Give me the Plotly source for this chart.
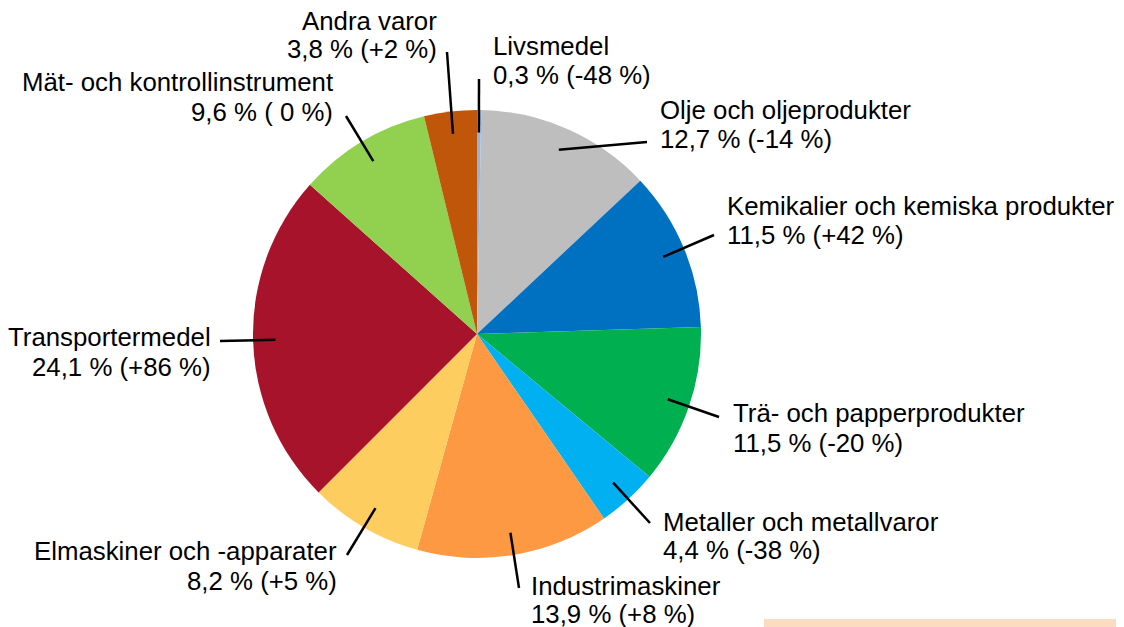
import math
import plotly.graph_objects as go

# ---- data ----
categories = ["Livsmedel", "Olje och oljeprodukter", "Kemikalier och kemiska produkter",
              "Trä- och papperprodukter", "Metaller och metallvaror", "Industrimaskiner",
              "Elmaskiner och -apparater", "Transportermedel", "Mät- och kontrollinstrument",
              "Andra varor"]
shares = [0.3, 12.7, 11.5, 11.5, 4.4, 13.9, 8.2, 24.1, 9.6, 3.8]
share_labels = ["0,3 %", "12,7 %", "11,5 %", "11,5 %", "4,4 %", "13,9 %", "8,2 %", "24,1 %", "9,6 %", "3,8 %"]
change_labels = ["(-48 %)", "(-14 %)", "(+42 %)", "(-20 %)", "(-38 %)", "(+8 %)", "(+5 %)", "(+86 %)", "( 0 %)", "(+2 %)"]

colors = ["#8EB4E3", "#BDBEBD", "#0070C0", "#00B050", "#00B0F0", "#FD9843",
          "#FECD5F", "#A6132A", "#92D050", "#C0560A"]

# ---- layout (pixel positions in the page) ----
W, H = 1124, 627
OFF = 8  # default page body margin
CX, CY, R = 477, 334, 224
# label anchor: (x, y line1, y line2, xanchor), line outer end (x, y)
label_pos = [
    (491, 46, 75, "left", (479, 79)),
    (658, 110, 139, "left", (647, 142)),
    (725, 206, 235, "left", (714, 235)),
    (731, 413, 443, "left", (719, 417)),
    (661, 522, 550, "left", (650, 523)),
    (529, 586, 614, "left", (519, 588)),
    (339, 551, 581, "right", (347, 555)),
    (213, 337, 367, "right", (220, 341)),
    (335, 82, 112, "right", (346, 116)),
    (439, 21, 49, "right", (447, 52)),
]

def px(x):
    return (x - OFF) / W

def py(y):
    return 1 - (y - OFF) / H

fig = go.Figure(go.Pie(
    labels=categories, values=shares, sort=False, direction="clockwise",
    rotation=0, textinfo="none", hoverinfo="label+percent",
    marker=dict(colors=colors, line=dict(width=0)),
    domain=dict(x=[px(CX - R), px(CX + R)], y=[py(CY + R), py(CY - R)]),
    showlegend=False,
))

font = dict(family="Liberation Sans, Arial, sans-serif", size=25.8, color="#000000")
annotations = []
shapes = []
total = sum(shares)
cum = 0.0
for i, v in enumerate(shares):
    mid = (cum + v / 2) / total * 2 * math.pi
    cum += v
    tx = CX + 0.9 * R * math.sin(mid)
    ty = CY - 0.9 * R * math.cos(mid)
    lx, l1, l2, anchor, (ox, oy) = label_pos[i]
    shapes.append(dict(type="line", xref="paper", yref="paper",
                       x0=px(tx), y0=py(ty), x1=px(ox), y1=py(oy),
                       line=dict(color="#000000", width=2.5)))
    annotations.append(dict(text=categories[i], x=px(lx), y=py(l1), xref="paper", yref="paper",
                            xanchor=anchor, yanchor="middle", showarrow=False, font=font))
    annotations.append(dict(text=f"{share_labels[i]} {change_labels[i]}", x=px(lx), y=py(l2),
                            xref="paper", yref="paper", xanchor=anchor, yanchor="middle",
                            showarrow=False, font=font))

shapes.append(dict(type="rect", xref="paper", yref="paper", x0=px(764), x1=1, y0=0, y1=py(619),
                   fillcolor="#FCDCC0", line=dict(width=0), layer="below"))

fig.update_layout(
    width=W, height=H, margin=dict(l=0, r=0, t=0, b=0),
    paper_bgcolor="#FFFFFF", plot_bgcolor="#FFFFFF",
    annotations=annotations, shapes=shapes,
)

fig.write_html("out.html")
